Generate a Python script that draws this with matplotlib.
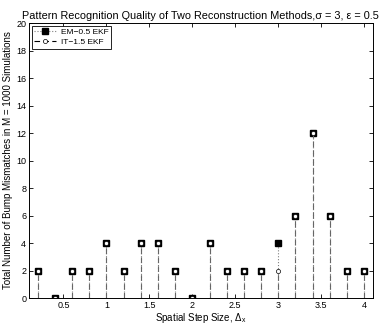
import matplotlib
matplotlib.use("Agg")
import matplotlib.pyplot as plt
from matplotlib.lines import Line2D

plt.rcParams['font.family'] = ['Liberation Sans', 'DejaVu Sans']
plt.rcParams['mathtext.fontset'] = 'custom'
plt.rcParams['mathtext.rm'] = 'Liberation Sans'
plt.rcParams['mathtext.it'] = 'Liberation Sans'

step = [0.2, 0.4, 0.6, 0.8, 1.0, 1.2, 1.4, 1.6, 1.8, 2.0,
        2.2, 2.4, 2.6, 2.8, 3.0, 3.2, 3.4, 3.6, 3.8, 4.0]
em_mismatch = [2, 0, 2, 2, 4, 2, 4, 4, 2, 0, 4, 2, 2, 2, 4, 6, 12, 6, 2, 2]
it_mismatch = [2, 0, 2, 2, 4, 2, 4, 4, 2, 0, 4, 2, 2, 2, 2, 6, 12, 6, 2, 2]
labels = ['EM\u22120.5 EKF', 'IT\u22121.5 EKF']

fig = plt.figure(figsize=(3.82, 3.25), dpi=100)
ax = fig.add_axes([0.076, 0.083, 0.9, 0.846])

# EM: dotted stems, filled squares
m1, s1, b1 = ax.stem(step, em_mismatch, basefmt=' ')
s1.set_color('0.5'); s1.set_linestyle(':'); s1.set_linewidth(0.8)
m1.set_marker('s'); m1.set_markersize(5); m1.set_color('k')
m1.set_markerfacecolor('k'); m1.set_markeredgecolor('k')

# IT: dashed stems, open circles
m2, s2, b2 = ax.stem(step, it_mismatch, basefmt=' ')
s2.set_color('0.4'); s2.set_linestyle((0, (5, 3))); s2.set_linewidth(0.8)
m2.set_marker('o'); m2.set_markersize(3)
m2.set_markerfacecolor('white'); m2.set_markeredgecolor('k')
m2.set_markeredgewidth(0.5)

ax.set_xlim(0.1, 4.1)
ax.set_ylim(0, 20)
ax.set_xticks([0.5, 1, 1.5, 2, 2.5, 3, 3.5, 4])
ax.set_xticklabels(['0.5', '1', '1.5', '2', '2.5', '3', '3.5', '4'])
ax.set_yticks(range(0, 21, 2))
ax.tick_params(direction='in', top=True, right=True, labelsize=6.5,
               length=3, width=0.6, pad=2)
for sp in ax.spines.values():
    sp.set_linewidth(0.7)

ax.set_title('Pattern Recognition Quality of Two Reconstruction Methods,'
             '\u03c3 = 3, \u03b5 = 0.5', fontsize=7.8, pad=3)
ax.set_xlabel('Spatial Step Size, $\\Delta_x$', fontsize=7, labelpad=1)
ax.set_ylabel('Total Number of Bump Mismatches in M = 1000 Simulations',
              fontsize=7, labelpad=2)

h1 = Line2D([], [], color='0.5', linestyle=':', linewidth=0.8, marker='s',
            markersize=5, markerfacecolor='k', markeredgecolor='k')
h2 = Line2D([], [], color='k', linestyle=(0, (5, 3)), linewidth=0.8, marker='o',
            markersize=3, markerfacecolor='white', markeredgecolor='k',
            markeredgewidth=0.5)
leg = ax.legend([h1, h2], labels, loc='upper left',
                fontsize=6, fancybox=False, edgecolor='k', framealpha=1,
                borderpad=0.3, labelspacing=0.3, handlelength=2.6,
                handletextpad=0.6, borderaxespad=0.3)
leg.get_frame().set_linewidth(0.6)

fig.savefig('out.png', dpi=100)
